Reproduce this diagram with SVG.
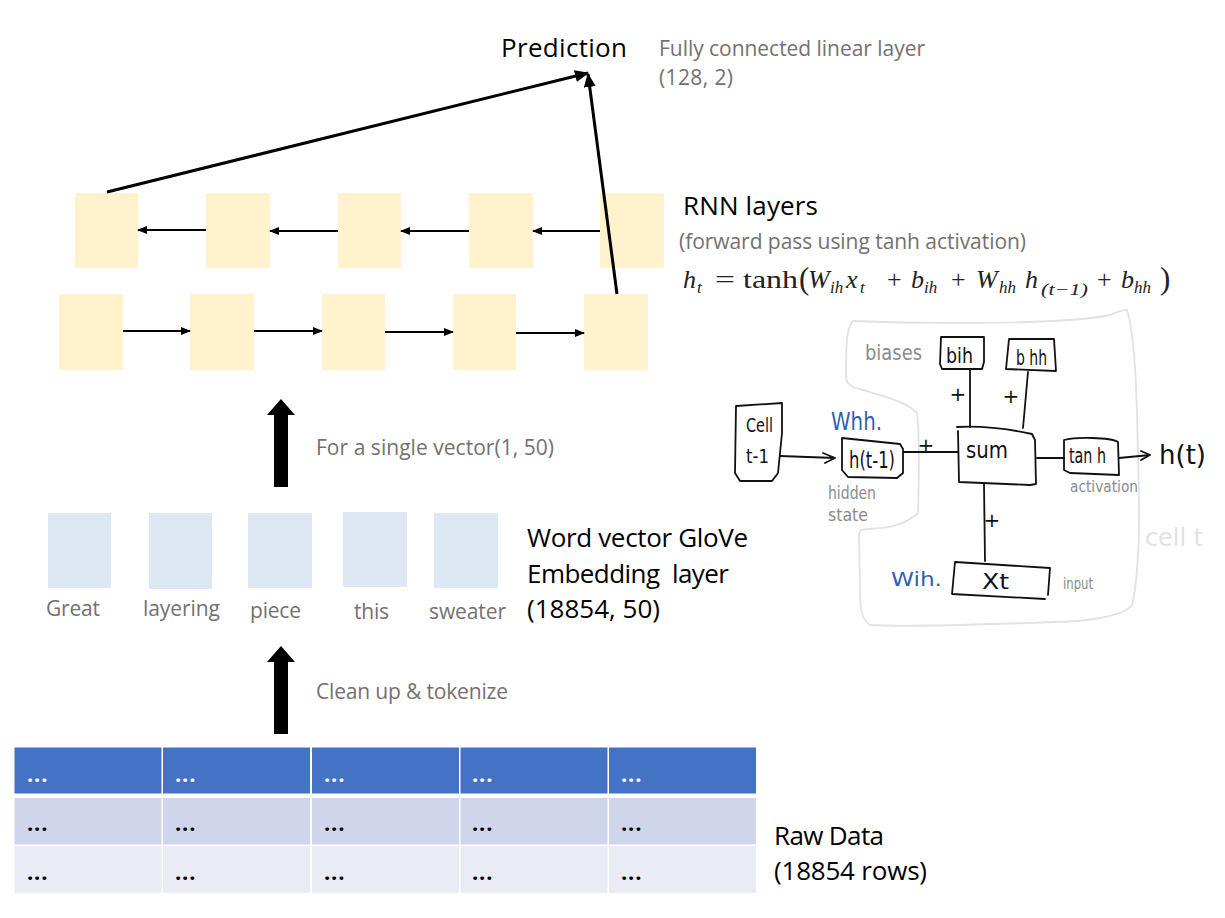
<svg xmlns="http://www.w3.org/2000/svg" width="1225" height="918" viewBox="0 0 1225 918">
<style>
text{font-family:"Open Sans","Noto Sans",sans-serif}
.y{fill:#FFF2CC}.b{fill:#DEE8F4}
.l{font-size:26px;fill:#000;white-space:pre}
.s{font-size:21px;fill:#757070}
.d{font-size:22px;font-weight:700;letter-spacing:.8px}
.hw{fill:none;stroke:#111;stroke-width:1.8;stroke-linejoin:round;stroke-linecap:round}
.hg{fill:none;stroke:#e2e2e2;stroke-width:1.8;stroke-linejoin:round}
.ht{font-family:"DejaVu Sans",sans-serif;fill:#111}
.blue{fill:#2f5fb5}.gr{fill:#8a8a8a}.pl{fill:#111;text-anchor:middle;font-family:"DejaVu Sans",sans-serif;font-size:20px}
.m{font-family:"Liberation Serif",serif;fill:#222;font-size:26px}
.m.sub{font-size:17px}
.m.p{font-size:31px}
.i{font-style:italic}
</style>
<defs>
<marker id="a" markerWidth="10" markerHeight="8" refX="9" refY="4" orient="auto" markerUnits="userSpaceOnUse"><path d="M0 0L10 4L0 8Z" fill="#000"/></marker>
<marker id="a2" markerWidth="14" markerHeight="12" refX="13" refY="6" orient="auto" markerUnits="userSpaceOnUse"><path d="M0 0L14 6L0 12Z" fill="#000"/></marker>
</defs>
<rect width="1225" height="918" fill="#fff"/>
<g id="prediction"><text class="l" x="501" y="57" textLength="126">Prediction</text></g>
<g id="fc-label"><text class="s" x="659" y="56" textLength="266">Fully connected linear layer</text><text class="s" x="659" y="85" textLength="74">(128, 2)</text></g>
<g id="rnn-top">
<rect class="y" x="75" y="193" width="63" height="75"/><rect class="y" x="206" y="193" width="64" height="75"/><rect class="y" x="338" y="193" width="63" height="75"/><rect class="y" x="469" y="193" width="64" height="75"/><rect class="y" x="600" y="193" width="64" height="75"/>
</g>
<g id="rnn-bottom">
<rect class="y" x="59" y="294" width="64" height="76"/><rect class="y" x="190" y="294" width="64" height="76"/><rect class="y" x="322" y="294" width="63" height="76"/><rect class="y" x="453" y="294" width="63" height="76"/><rect class="y" x="584" y="294" width="64" height="76"/>
</g>
<g id="connectors">
<g stroke-width="1.8" fill="none" stroke="#000">
<path d="M206 230H138" marker-end="url(#a)"/><path d="M338 231H270" marker-end="url(#a)"/><path d="M469 231H401" marker-end="url(#a)"/><path d="M600 231H533" marker-end="url(#a)"/>
<path d="M123 331H190" marker-end="url(#a)"/><path d="M254 331H322" marker-end="url(#a)"/><path d="M385 332H453" marker-end="url(#a)"/><path d="M516 333H584" marker-end="url(#a)"/>
</g>
<path d="M107 192L588 73" stroke="#000" stroke-width="3" fill="none" marker-end="url(#a2)"/>
<path d="M617 294L588 74" stroke="#000" stroke-width="3" fill="none" marker-end="url(#a2)"/>
<path d="M281 399L295 415H288V487H274V415H267Z" fill="#000"/>
<path d="M281 646L295 662H288V734H274V662H267Z" fill="#000"/>
</g>
<g id="rnn-label"><text class="l" x="683" y="215" textLength="135">RNN layers</text><text class="s" x="679" y="249" textLength="347">(forward pass using tanh activation)</text></g>
<g id="formula">
<text class="m i" x="683" y="288">h</text><text class="m sub i" x="697" y="293">t</text>
<text class="m" x="715" y="288" textLength="20" lengthAdjust="spacingAndGlyphs">=</text><text class="m" x="743" y="288" textLength="55" lengthAdjust="spacingAndGlyphs">tanh</text><text class="m p" x="799" y="289">(</text>
<text class="m i" x="808" y="288">W</text><text class="m sub i" x="830" y="293">ih</text><text class="m i" x="846" y="288">x</text><text class="m sub i" x="860" y="293">t</text>
<text class="m" x="887" y="288">+</text><text class="m i" x="911" y="288">b</text><text class="m sub i" x="924" y="293">ih</text>
<text class="m" x="951" y="288">+</text><text class="m i" x="976" y="288">W</text><text class="m sub i" x="999" y="293">hh</text><text class="m i" x="1025" y="288">h</text><text class="m sub i" x="1041" y="295" textLength="47" lengthAdjust="spacingAndGlyphs">(t−1)</text>
<text class="m" x="1097" y="288">+</text><text class="m i" x="1121" y="288">b</text><text class="m sub i" x="1134" y="293">hh</text><text class="m p" x="1160" y="289">)</text>
</g>
<g id="cell-diagram">
<path class="hg" d="M853 321C900 323 1060 326 1110 315C1118 312 1124 309 1127 310C1136 340 1137 400 1139 500C1140 550 1136 590 1132 605C1125 615 1090 622 1053 622C1000 624 900 627 870 625C862 620 860 610 860 590L859 533C860 530 862 529 868 529C890 528 905 525 918 513C919 480 920 440 917 413C908 402 880 395 853 387C848 384 846 382 846 375C846 355 846 340 848 333C849 327 851 323 853 321Z"/>
<g id="cell-prev"><path class="hw" d="M736 406L782 403L782 433L778 473L772 481L740 481L735 473Z"/><text class="ht" font-size="20" x="746" y="432" textLength="27" lengthAdjust="spacingAndGlyphs">Cell</text><text class="ht" font-size="20" x="746" y="463" textLength="23" lengthAdjust="spacingAndGlyphs">t-1</text></g>
<g id="h-prev"><path class="hw" d="M842 438L900 444L903 449L903 473L897 478L848 477L842 470Z"/><text class="ht" font-size="23" x="849" y="468" textLength="46" lengthAdjust="spacingAndGlyphs">h(t-1)</text></g>
<g id="sum"><path class="hw" d="M957 427C975 426 1000 427 1032 434L1035 440L1036 484L1030 485L959 482L958 431"/><text class="ht" font-size="23" x="966" y="458" textLength="42" lengthAdjust="spacingAndGlyphs">sum</text></g>
<g id="tanh"><path class="hw" d="M1064 440C1075 437 1110 437 1118 442L1119 475L1070 473L1064 470Z"/><text class="ht" font-size="21" x="1069" y="463" textLength="37" lengthAdjust="spacingAndGlyphs">tan h</text></g>
<g id="bih"><path class="hw" d="M941 337L984 337L984 362L982 369L942 369L940 364Z"/><text class="ht" font-size="22" x="946" y="363" textLength="27" lengthAdjust="spacingAndGlyphs">bih</text></g>
<g id="bhh"><path class="hw" d="M1009 339L1054 339L1056 371L1006 369Z"/><text class="ht" font-size="22" x="1016" y="365" textLength="31" lengthAdjust="spacingAndGlyphs">b hh</text></g>
<g id="xt"><path class="hw" d="M1048 595L1050 568L955 562L952 594L1045 599"/><text class="ht" font-size="21" x="982" y="589" textLength="27" lengthAdjust="spacingAndGlyphs">Xt</text></g>
<g class="hw">
<path d="M780 456L835 458M823 453L835 458L825 463"/>
<path d="M904 452L958 452"/>
<path d="M970 370L970 427"/>
<path d="M1028 372L1023 428"/>
<path d="M1037 458L1064 458M1119 458L1150 455M1141 451L1150 455L1141 460"/>
<path d="M984 484L985 561"/>
</g>
<text class="pl" x="958" y="401">+</text><text class="pl" x="1011" y="403">+</text><text class="pl" x="926" y="452">+</text><text class="pl" x="992" y="527">+</text>
<text class="ht" font-size="26" x="1159" y="464" textLength="47" lengthAdjust="spacingAndGlyphs">h(t)</text>
<text class="ht blue" font-size="25" x="831" y="430" textLength="51" lengthAdjust="spacingAndGlyphs">Whh.</text>
<text class="ht blue" font-size="20" x="891" y="586" textLength="51" lengthAdjust="spacingAndGlyphs">Wih.</text>
<text class="ht gr" font-size="21" x="865" y="360" textLength="57" lengthAdjust="spacingAndGlyphs">biases</text>
<text class="ht gr" font-size="17" x="828" y="499" textLength="48" lengthAdjust="spacingAndGlyphs">hidden</text>
<text class="ht gr" font-size="17" x="828" y="521" textLength="40" lengthAdjust="spacingAndGlyphs">state</text>
<text class="ht gr" font-size="16" x="1070" y="492" textLength="68" lengthAdjust="spacingAndGlyphs">activation</text>
<text class="ht gr" font-size="15" x="1063" y="589" textLength="30" lengthAdjust="spacingAndGlyphs">input</text>
<text class="ht" font-size="24" x="1145" y="546" style="fill:#e2e2e2" textLength="58" lengthAdjust="spacingAndGlyphs">cell t</text>
</g>
<g id="clean-label"><text class="s" x="316" y="455" textLength="238">For a single vector(1, 50)</text><text class="s" x="316" y="699" textLength="192">Clean up &amp; tokenize</text></g>
<g id="embeddings">
<rect class="b" x="48" y="513" width="63" height="75"/><rect class="b" x="149" y="513" width="63" height="76"/><rect class="b" x="248" y="513" width="64" height="75"/><rect class="b" x="343" y="512" width="64" height="75"/><rect class="b" x="434" y="513" width="64" height="75"/>
<text class="s" x="46" y="616" textLength="54">Great</text><text class="s" x="143" y="616" textLength="77">layering</text><text class="s" x="250" y="618" textLength="51">piece</text><text class="s" x="354" y="619" textLength="35">this</text><text class="s" x="429" y="619" textLength="77">sweater</text>
</g>
<g id="embedding-label"><text class="l" x="527" y="547" textLength="221">Word vector GloVe</text><text class="l" x="527" y="583" textLength="202" xml:space="preserve">Embedding  layer</text><text class="l" x="527" y="618" textLength="133">(18854, 50)</text></g>
<g id="raw-table">
<g fill="#4472C4"><rect x="14.5" y="747.5" width="147" height="46"/><rect x="163" y="747.5" width="147" height="46"/><rect x="312" y="747.5" width="147" height="46"/><rect x="460.500" y="747.5" width="147" height="46"/><rect x="609" y="747.5" width="147" height="46"/></g>
<g fill="#CFD5EA"><rect x="14.5" y="798" width="147" height="46.500"/><rect x="163" y="798" width="147" height="46.500"/><rect x="312" y="798" width="147" height="46.500"/><rect x="460.500" y="798" width="147" height="46.500"/><rect x="609" y="798" width="147" height="46.500"/></g>
<g fill="#E9EBF5"><rect x="14.5" y="846" width="147" height="47"/><rect x="163" y="846" width="147" height="47"/><rect x="312" y="846" width="147" height="47"/><rect x="460.500" y="846" width="147" height="47"/><rect x="609" y="846" width="147" height="47"/></g>
<g class="d" fill="#fff"><text x="27" y="782">...</text><text x="175" y="782">...</text><text x="324" y="782">...</text><text x="472" y="782">...</text><text x="621" y="782">...</text></g>
<g class="d" fill="#000"><text x="27" y="831">...</text><text x="175" y="831">...</text><text x="324" y="831">...</text><text x="472" y="831">...</text><text x="621" y="831">...</text>
<text x="27" y="880">...</text><text x="175" y="880">...</text><text x="324" y="880">...</text><text x="472" y="880">...</text><text x="621" y="880">...</text></g>
</g>
<g id="raw-label"><text class="l" x="774" y="845" textLength="110">Raw Data</text><text class="l" x="774" y="880" textLength="153">(18854 rows)</text></g>
</svg>
